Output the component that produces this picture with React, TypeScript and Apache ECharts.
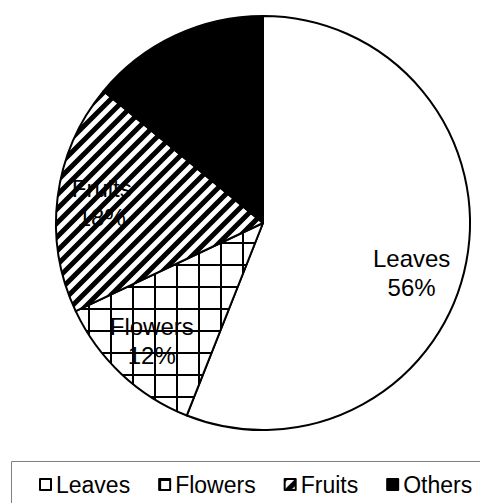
import React, { useEffect, useRef } from "react";
import * as echarts from "echarts";

const categories = ["Leaves", "Flowers", "Fruits", "Others"];
const shares = [56, 12, 18, 14];

function makeGrid(): HTMLCanvasElement {
  const s = 22;
  const c = document.createElement("canvas");
  c.width = s;
  c.height = s;
  const g = c.getContext("2d")!;
  g.fillStyle = "#ffffff";
  g.fillRect(0, 0, s, s);
  g.fillStyle = "#000000";
  g.fillRect(0, 0, 2, s);
  g.fillRect(0, 0, s, 2);
  return c;
}

function makeStripes(): HTMLCanvasElement {
  const s = 14;
  const c = document.createElement("canvas");
  c.width = s;
  c.height = s;
  const g = c.getContext("2d")!;
  g.fillStyle = "#ffffff";
  g.fillRect(0, 0, s, s);
  g.strokeStyle = "#000000";
  g.lineWidth = 5;
  g.beginPath();
  g.moveTo(-1, s + 1);
  g.lineTo(s + 1, -1);
  g.moveTo(-s / 2 - 1, s / 2 + 1);
  g.lineTo(s / 2 + 1, -s / 2 - 1);
  g.moveTo(s / 2 - 1, s * 1.5 + 1);
  g.lineTo(s * 1.5 + 1, s / 2 - 1);
  g.stroke();
  return c;
}

export default function App() {
  const ref = useRef<HTMLDivElement>(null);

  useEffect(() => {
    document.body.style.margin = "0";
    if (!ref.current) return;
    const chart = echarts.init(ref.current, null, { renderer: "svg" });

    const fills: any[] = [
      "#ffffff",
      { image: makeGrid(), repeat: "repeat" },
      { image: makeStripes(), repeat: "repeat" },
      "#000000",
    ];
    const labelOffsets: Record<string, number[]> = { Leaves: [-11, 20] };

    const font = "'Liberation Sans', Arial, sans-serif";
    const center = [263, 223];

    chart.setOption({
      animation: false,
      backgroundColor: "#ffffff",
      legend: {
        data: categories,
        left: 39,
        top: 473,
        orient: "horizontal",
        icon: "rect",
        itemWidth: 11,
        itemHeight: 11,
        itemGap: 28,
        padding: 0,
        textStyle: { fontSize: 23, color: "#000", fontFamily: font },
      },
      graphic: [
        {
          type: "rect",
          silent: true,
          shape: { x: 11.5, y: 461.5, width: 500, height: 80 },
          style: { fill: "none", stroke: "#7f7f7f", lineWidth: 1 },
        },
      ],
      series: [
        {
          type: "pie",
          center,
          radius: [0, 207],
          startAngle: 90,
          clockwise: true,
          label: { show: false },
          labelLine: { show: false },
          emphasis: { disabled: true },
          data: categories.map((name, i) => ({
            name,
            value: shares[i],
            itemStyle: { color: fills[i], borderColor: "#000", borderWidth: 2 },
          })),
        },
        {
          type: "pie",
          center,
          radius: [112, 207],
          startAngle: 90,
          clockwise: true,
          silent: true,
          labelLine: { show: false },
          emphasis: { disabled: true },
          itemStyle: { color: "rgba(0,0,0,0)", borderWidth: 0 },
          label: {
            show: true,
            position: "inside",
            formatter: "{b}\n{c}%",
            fontSize: 24,
            lineHeight: 29,
            color: "#000",
            fontFamily: font,
          },
          data: categories.map((name, i) => ({
            name,
            value: shares[i],
            label: labelOffsets[name] ? { offset: labelOffsets[name] } : undefined,
          })),
        },
      ],
    });

    return () => chart.dispose();
  }, []);

  return <div ref={ref} style={{ width: 480, height: 503 }} />;
}
